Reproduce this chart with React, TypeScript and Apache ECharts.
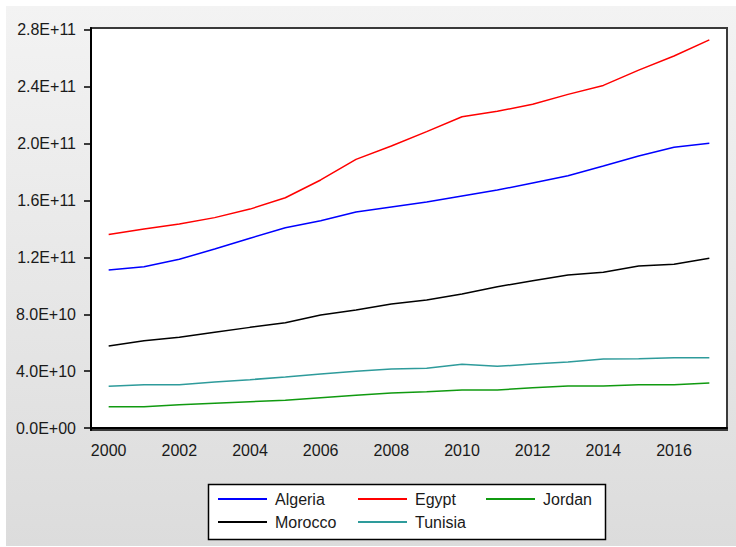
import React, { useEffect, useRef } from "react";
import * as echarts from "echarts";

const years = ["2000","2001","2002","2003","2004","2005","2006","2007","2008","2009","2010","2011","2012","2013","2014","2015","2016","2017"];
const algeria = [1.111e11,1.135e11,1.187e11,1.259e11,1.335e11,1.409e11,1.458e11,1.52e11,1.555e11,1.59e11,1.632e11,1.674e11,1.724e11,1.775e11,1.843e11,1.914e11,1.975e11,2.003e11];
const egypt = [1.361e11,1.40e11,1.435e11,1.48e11,1.54e11,1.62e11,1.745e11,1.89e11,1.984e11,2.085e11,2.19e11,2.228e11,2.278e11,2.347e11,2.41e11,2.518e11,2.617e11,2.73e11];
const jordan = [1.50e10,1.50e10,1.64e10,1.74e10,1.85e10,1.95e10,2.13e10,2.30e10,2.46e10,2.55e10,2.67e10,2.67e10,2.84e10,2.95e10,2.95e10,3.05e10,3.05e10,3.17e10];
const morocco = [5.77e10,6.14e10,6.38e10,6.73e10,7.08e10,7.41e10,7.95e10,8.30e10,8.72e10,9.0e10,9.43e10,9.94e10,1.036e11,1.076e11,1.095e11,1.14e11,1.152e11,1.194e11];
const tunisia = [2.93e10,3.05e10,3.05e10,3.24e10,3.40e10,3.59e10,3.80e10,3.99e10,4.15e10,4.20e10,4.48e10,4.34e10,4.50e10,4.64e10,4.85e10,4.88e10,4.95e10,4.95e10];
const yTicks = [0, 4e10, 8e10, 1.2e11, 1.6e11, 2.0e11, 2.4e11, 2.8e11];

const FONT = "'Liberation Sans', Arial, sans-serif";

function fmt(v: number): string {
  const s = v.toExponential(1);
  const [m, e] = s.split("e");
  const sign = e[0];
  const d = e.slice(1).padStart(2, "0");
  return m + "E" + sign + d;
}

export default function App() {
  const ref = useRef<HTMLDivElement>(null);
  useEffect(() => {
    if (!ref.current) return;
    const chart = echarts.init(ref.current, null, { renderer: "svg" });
    const legendCommon = {
      orient: "horizontal",
      padding: 0,
      itemWidth: 49,
      itemHeight: 2,
      icon: "rect",
      selectedMode: false,
      textStyle: { fontSize: 16, color: "#1a1a1a", fontFamily: FONT, padding: [0, 0, 0, 3] },
    };
    const mk = (name: string, data: number[], color: string) => ({
      name,
      type: "line",
      data,
      symbol: "none",
      color,
      lineStyle: { color, width: 1.5 },
    });
    chart.setOption({
      animation: false,
      grid: {
        left: 91,
        top: 28,
        right: 9,
        bottom: 117,
        show: true,
        backgroundColor: "#ffffff",
        borderColor: "#3a3a3a",
        borderWidth: 2,
      },
      xAxis: {
        type: "category",
        data: years,
        boundaryGap: true,
        axisLine: { lineStyle: { color: "#000", width: 2 } },
        axisTick: { interval: 0, length: 7, lineStyle: { color: "#000", width: 1.5 } },
        axisLabel: { interval: 1, fontSize: 16, color: "#1a1a1a", fontFamily: FONT, margin: 12 },
        splitLine: { show: false },
      },
      yAxis: {
        type: "value",
        min: -1.4e9,
        max: 2.814e11,
        axisLine: { show: true, lineStyle: { color: "#000", width: 2 } },
        axisTick: { show: true, length: 7, customValues: yTicks, lineStyle: { color: "#000", width: 1.5 } },
        axisLabel: {
          customValues: yTicks,
          formatter: (v: number) => fmt(v),
          fontSize: 16,
          color: "#1a1a1a",
          fontFamily: FONT,
          margin: 15,
        },
        splitLine: { show: false },
      },
      graphic: [
        {
          type: "rect",
          shape: { x: 208.5, y: 484.5, width: 397, height: 55 },
          style: { fill: "#ffffff", stroke: "#000", lineWidth: 1.5 },
        },
      ],
      legend: [
        { ...legendCommon, data: ["Algeria"], left: 218, top: 491 },
        { ...legendCommon, data: ["Egypt"], left: 358, top: 491 },
        { ...legendCommon, data: ["Jordan"], left: 486, top: 491 },
        { ...legendCommon, data: ["Morocco"], left: 218, top: 514 },
        { ...legendCommon, data: ["Tunisia"], left: 358, top: 514 },
      ],
      series: [
        mk("Algeria", algeria, "#0000ff"),
        mk("Egypt", egypt, "#ff0000"),
        mk("Jordan", jordan, "#109a10"),
        mk("Morocco", morocco, "#000000"),
        mk("Tunisia", tunisia, "#2e9b9b"),
      ],
    });
    return () => chart.dispose();
  }, []);
  return (
    <div
      ref={ref}
      style={{
        position: "fixed",
        left: 0,
        top: 0,
        width: 736,
        height: 547,
        background: "linear-gradient(#f3f3f3, #dcdcdc) 6px 6px / 730px 540px no-repeat, #ffffff",
      }}
    />
  );
}
